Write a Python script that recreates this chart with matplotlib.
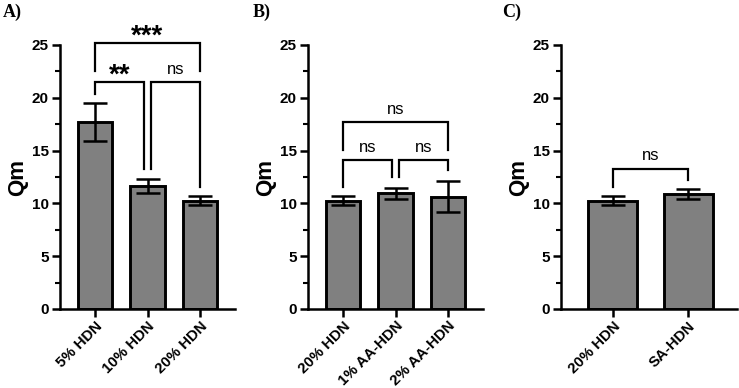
import matplotlib
matplotlib.use("Agg")
import matplotlib.pyplot as plt
from matplotlib.ticker import MultipleLocator

plt.rcParams['font.family'] = ['Liberation Sans', 'DejaVu Sans']

# ---- data ----
a_labels = ["5% HDN", "10% HDN", "20% HDN"]
a_means = [17.7, 11.65, 10.25]
a_errs = [1.8, 0.68, 0.42]

b_labels = ["20% HDN", "1% AA-HDN", "2% AA-HDN"]
b_means = [10.25, 10.95, 10.65]
b_errs = [0.42, 0.5, 1.5]

c_labels = ["20% HDN", "SA-HDN"]
c_means = [10.25, 10.85]
c_errs = [0.42, 0.48]

# brackets: (x1, x2, y, left_leg_bottom, right_leg_bottom, text)
a_brackets = [(0, 2, 25.2, 22.5, 22.5, "***"),
              (0, 0.94, 21.5, 20.4, 13.3, "**"),
              (1.06, 2, 21.5, 13.3, 11.6, "ns")]
b_brackets = [(0, 2, 17.7, 15.1, 15.1, "ns"),
              (0, 0.94, 14.1, 11.6, 12.5, "ns"),
              (1.06, 2, 14.1, 12.5, 13.2, "ns")]
c_brackets = [(0, 1, 13.3, 11.6, 12.2, "ns")]

fig = plt.figure(figsize=(7.39, 3.88), dpi=100)

bottom = 1 - 309 / 388
top = 1 - 45 / 388
panels = [
    (60, 235, a_labels, a_means, a_errs, a_brackets, (-0.67, 2.67), "A)", 3),
    (308, 483, b_labels, b_means, b_errs, b_brackets, (-0.67, 2.67), "B)", 253),
    (561, 737, c_labels, c_means, c_errs, c_brackets, (-0.69, 1.65), "C)", 502),
]

for (xl, xr, labels, means, errs, brackets, xlim, letter, lx) in panels:
    ax = fig.add_axes([xl / 739, bottom, (xr - xl) / 739, top - bottom])
    x = list(range(len(labels)))
    ax.bar(x, means, width=0.65, color="#808080", edgecolor="black",
           linewidth=2.1, zorder=2)
    ax.errorbar(x, means, yerr=errs, fmt="none", ecolor="black",
                elinewidth=1.8, capsize=8.5, capthick=1.8, zorder=3)
    ax.set_xlim(*xlim)
    ax.set_ylim(0, 25)
    ax.spines["top"].set_visible(False)
    ax.spines["right"].set_visible(False)
    ax.spines["left"].set_linewidth(1.8)
    ax.spines["bottom"].set_linewidth(1.8)
    ax.yaxis.set_major_locator(MultipleLocator(5))
    ax.yaxis.set_minor_locator(MultipleLocator(2.5))
    ax.tick_params(axis="y", which="major", length=6, width=1.8, labelsize=11, pad=2)
    ax.tick_params(axis="y", which="minor", length=3.5, width=1.5)
    ax.tick_params(axis="x", length=6, width=1.8, labelsize=10.8, pad=1)
    ax.set_xticks(x)
    ax.set_xticklabels(labels, rotation=45, ha="right", rotation_mode="anchor",
                       fontweight="bold")
    for t in ax.get_yticklabels():
        t.set_fontweight("bold")
    ax.set_ylabel("Qm", fontsize=16, fontweight="bold", labelpad=3)
    for (x1, x2, y, lb, rb, txt) in brackets:
        ax.plot([x1, x1, x2, x2], [lb, y, y, rb], color="black", lw=1.6,
                clip_on=False, solid_joinstyle="miter", zorder=4)
        if txt == "ns":
            ax.text((x1 + x2) / 2, y + 1.2, txt, ha="center", va="center",
                    fontsize=12, clip_on=False)
        else:
            ax.text((x1 + x2) / 2, y - 0.1, txt, ha="center", va="baseline",
                    fontsize=20, fontweight="bold", clip_on=False)
    fig.text(lx / 739, 1 - 12 / 388, letter, fontsize=13, fontweight="bold",
             family="Liberation Serif", ha="left", va="center")

fig.savefig("out.png", dpi=100)
